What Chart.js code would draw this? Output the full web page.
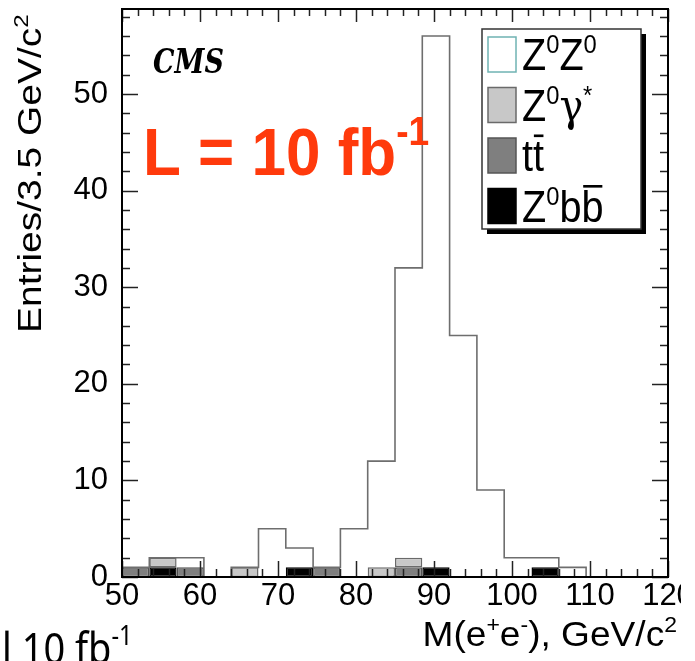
<!DOCTYPE html>
<html>
<head>
<meta charset="utf-8">
<title>M(e+e-) spectrum, CMS</title>
<script src="https://cdn.jsdelivr.net/npm/chart.js@4.4.1/dist/chart.umd.min.js"></script>
<style>
  html, body { margin: 0; padding: 0; background: #fff; }
  #wrap { position: relative; width: 695px; height: 661px; }
</style>
</head>
<body>
<div id="wrap"><canvas id="mass"></canvas></div>
<script>
// 3.5 GeV/c^2 bins between 50 and 120
const binCenters = [51.75, 55.25, 58.75, 62.25, 65.75, 69.25, 72.75, 76.25, 79.75, 83.25,
                    86.75, 90.25, 93.75, 97.25, 100.75, 104.25, 107.75, 111.25, 114.75, 118.25];
const binEdges = [50, 53.5, 57, 60.5, 64, 67.5, 71, 74.5, 78, 81.5, 85,
                  88.5, 92, 95.5, 99, 102.5, 106, 109.5, 113, 116.5, 120];

// entries per bin, stack order bottom -> top
const zbbEntries    = [0, 1, 0, 0, 0, 0, 1, 0, 0, 0, 0, 1, 0, 0, 0, 1, 0, 0, 0, 0];
const ttbarEntries  = [1, 0, 1, 0, 0, 0, 0, 1, 0, 0, 1, 0, 0, 0, 0, 0, 0, 0, 0, 0];
const zgammaEntries = [0, 1, 0, 0, 1, 0, 0, 0, 0, 1, 1, 0, 0, 0, 0, 0, 0, 0, 0, 0];
const zzEntries     = [0, 0, 1, 0, 0, 5, 2, 0, 5, 11, 30, 55, 25, 9, 2, 1, 1, 0, 0, 0];

const xTickValues = [50, 60, 70, 80, 90, 100, 110, 120];
const yTickValues = [0, 10, 20, 30, 40, 50];

const FONT = '"Liberation Sans", Arial, Helvetica, sans-serif';
const SERIF = '"DejaVu Serif", "Liberation Serif", serif';

// legend rows: text parts + swatch style
const legendRows = [
  { parts: [{ t: 'Z' }, { t: '0', sup: true }, { t: 'Z' }, { t: '0', sup: true }], fill: '#ffffff', stroke: '#6fb3b3' },
  { parts: [{ t: 'Z' }, { t: '0', sup: true }, { t: 'γ', family: SERIF }, { t: '*', sup: true }], fill: '#c8c8c8', stroke: '#6a6a6a' },
  { parts: [{ t: 't' }, { t: 't', bar: true }], fill: '#7f7f7f', stroke: '#555555' },
  { parts: [{ t: 'Z' }, { t: '0', sup: true }, { t: 'b' }, { t: 'b', bar: true }], fill: '#000000', stroke: '#000000' },
];

const toPoints = (vals) => vals.map((v, i) => ({ x: binCenters[i], y: v }));

// outline of the full stack (step histogram)
const stackTotal = binCenters.map((_, i) => zbbEntries[i] + ttbarEntries[i] + zgammaEntries[i] + zzEntries[i]);
const outline = binEdges.map((e, i) => ({ x: e, y: i < stackTotal.length ? stackTotal[i] : 0 }));

/**
 * Draw a line of text made of pieces (superscripts, overlined letters)
 */
function drawRich(ctx, parts, o) {
  const size = o.size;
  const supSize = size * (o.supScale || 0.62);
  const pre = `${o.style || 'normal'} ${o.weight || 'normal'} `;
  const fam = o.family || FONT;
  const fontOf = (p) => `${pre}${p.sup ? supSize : size}px ${p.family || fam}`;
  ctx.save();
  const widths = parts.map((p) => {
    ctx.font = fontOf(p);
    return ctx.measureText(p.t).width;
  });
  const total = widths.reduce((a, b) => a + b, 0);
  ctx.translate(o.x, o.y);
  if (o.rotate) ctx.rotate(o.rotate);
  ctx.scale(o.sx || 1, o.sy || 1);
  ctx.fillStyle = o.color || '#000';
  ctx.strokeStyle = o.color || '#000';
  ctx.textAlign = 'left';
  ctx.textBaseline = 'alphabetic';
  const raise = 0.72 * (size - supSize) + (o.supLift !== undefined ? o.supLift : 0.06 * size);
  let cx = o.align === 'right' ? -total : 0;
  parts.forEach((p, i) => {
    ctx.font = fontOf(p);
    ctx.fillText(p.t, cx, p.sup ? -raise : 0);
    if (p.bar) {
      ctx.lineWidth = size * 0.06;
      ctx.beginPath();
      ctx.moveTo(cx + widths[i] * 0.08, -0.8 * size);
      ctx.lineTo(cx + widths[i] * 0.95, -0.8 * size);
      ctx.stroke();
    }
    cx += widths[i];
  });
  ctx.restore();
}

// frame, inward ticks, legend and labels (ROOT style)
const rootStylePlugin = {
  id: 'rootStyle',
  afterDraw(chart) {
    const { ctx, chartArea: a, scales } = chart;
    const xs = scales.x;
    const ys = scales.y;
    ctx.save();

    const seg = (x1, y1, x2, y2) => {
      ctx.beginPath();
      ctx.moveTo(x1, y1);
      ctx.lineTo(x2, y2);
      ctx.stroke();
    };

    // ticks on all four sides
    ctx.strokeStyle = '#222';
    ctx.lineWidth = 1.5;
    for (let v = 50; v <= 120; v += 2) {
      const px = Math.round(xs.getPixelForValue(v)) + 0.5;
      const major = v % 10 === 0;
      seg(px, a.bottom, px, a.bottom - (major ? 16 : 8));
      seg(px, a.top, px, a.top + (major ? 13 : 7));
    }
    for (let v = 0; v <= ys.max; v += 2) {
      const py = Math.round(ys.getPixelForValue(v)) + 0.5;
      const major = v % 10 === 0;
      seg(a.left, py, a.left + (major ? 16 : 8), py);
      seg(a.right, py, a.right - (major ? 16 : 8), py);
    }

    // frame
    ctx.strokeStyle = '#000';
    ctx.lineWidth = 2;
    ctx.strokeRect(a.left, a.top, a.right - a.left, a.bottom - a.top);

    // legend box with shadow
    const lx = 482, ly = 29, lw = 159, lh = 200;
    ctx.fillStyle = '#000';
    ctx.fillRect(lx + 5, ly + 5, lw, lh);
    ctx.fillStyle = '#fff';
    ctx.fillRect(lx, ly, lw, lh);
    ctx.strokeStyle = '#333';
    ctx.lineWidth = 1.5;
    ctx.strokeRect(lx, ly, lw, lh);
    legendRows.forEach((row, i) => {
      const top = ly + 8 + i * 50.5;
      ctx.fillStyle = row.fill;
      ctx.fillRect(488, top, 28, 35);
      ctx.strokeStyle = row.stroke;
      ctx.lineWidth = 1.5;
      ctx.strokeRect(488, top, 28, 35);
      drawRich(ctx, row.parts, { x: 522, y: top + 33, size: 44, sx: 0.9, supScale: 0.6, supLift: 4 });
    });

    // CMS tag
    drawRich(ctx, [{ t: 'CMS' }], {
      x: 153, y: 73, size: 27, weight: 'bold', style: 'italic', family: SERIF, sy: 1.22,
    });

    // luminosity
    drawRich(ctx, [{ t: 'L = 10 fb' }, { t: '-1', sup: true }], {
      x: 143, y: 175, size: 62, weight: 'bold', color: '#ff3a0c', sy: 1.08, supScale: 0.6, supLift: 10,
    });

    // axis titles
    drawRich(ctx, [{ t: 'M(e' }, { t: '+', sup: true }, { t: 'e' }, { t: '-', sup: true }, { t: '), GeV/c' }, { t: '2', sup: true }], {
      x: 677, y: 646, size: 35, sx: 1.06, align: 'right', supLift: 4,
    });
    drawRich(ctx, [{ t: 'Entries/3.5 GeV/c' }, { t: '2', sup: true }], {
      x: 41, y: 333, size: 33, sx: 1.18, rotate: -Math.PI / 2, supLift: 4,
    });

    // slide text cut at the bottom left
    drawRich(ctx, [{ t: 'l 10 fb' }, { t: '-1', sup: true }], {
      x: 2, y: 664, size: 38, family: '"Noto Sans", "DejaVu Sans", sans-serif', sy: 1.15, supScale: 0.62, supLift: 6,
    });

    // the source picture is cut just right of the last tick label
    ctx.fillStyle = '#fff';
    ctx.fillRect(681, a.bottom + 2, 20, 100);

    ctx.restore();
  },
};

const barBase = {
  type: 'bar',
  stack: 'mass',
  order: 1,
  borderWidth: 1.5,
  borderSkipped: false,
  inflateAmount: 0,
};

// fixed axis boxes, no extra room for overhanging labels
const fixX = (s) => { s.height = 84; s.paddingLeft = 0; s.paddingRight = 0; };
const fixY = (s) => { s.width = 122; s.paddingTop = 0; s.paddingBottom = 0; };

new Chart(document.getElementById('mass'), {
  type: 'bar',
  data: {
    datasets: [
      { ...barBase, label: 'Z0bb', data: toPoints(zbbEntries), backgroundColor: '#000000', borderColor: '#000000' },
      { ...barBase, label: 'tt', data: toPoints(ttbarEntries), backgroundColor: '#7f7f7f', borderColor: '#505050' },
      { ...barBase, label: 'Z0gamma*', data: toPoints(zgammaEntries), backgroundColor: '#c8c8c8', borderColor: '#6a6a6a' },
      { ...barBase, label: 'Z0Z0', data: toPoints(zzEntries), backgroundColor: '#ffffff', borderWidth: 0 },
      {
        type: 'line',
        label: 'stack outline',
        data: outline,
        order: 0,
        stepped: true,
        borderColor: '#6e6e6e',
        borderWidth: 1.6,
        pointRadius: 0,
        fill: false,
        tension: 0,
      },
    ],
  },
  options: {
    responsive: true,
    maintainAspectRatio: false,
    animation: false,
    barPercentage: 1,
    categoryPercentage: 1,
    layout: { padding: { top: 9, right: 27, left: 0, bottom: 0 } },
    plugins: {
      legend: { display: false },
      tooltip: { enabled: false },
    },
    scales: {
      x: {
        type: 'linear',
        min: 50,
        max: 120,
        offset: false,
        grid: { display: false, drawTicks: false, tickLength: 0 },
        border: { display: false },
        afterBuildTicks: (s) => { s.ticks = xTickValues.map((v) => ({ value: v })); },
        afterFit: fixX,
        ticks: {
          autoSkip: false,
          maxRotation: 0,
          padding: 1,
          color: '#000',
          font: { family: FONT, size: 31 },
        },
      },
      y: {
        type: 'linear',
        min: 0,
        max: 58.8,
        grid: { display: false, drawTicks: false, tickLength: 0 },
        border: { display: false },
        afterBuildTicks: (s) => { s.ticks = yTickValues.map((v) => ({ value: v })); },
        afterFit: fixY,
        ticks: {
          autoSkip: false,
          padding: 14,
          color: '#000',
          font: { family: FONT, size: 31 },
        },
      },
    },
  },
  plugins: [rootStylePlugin],
});
</script>
</body>
</html>
